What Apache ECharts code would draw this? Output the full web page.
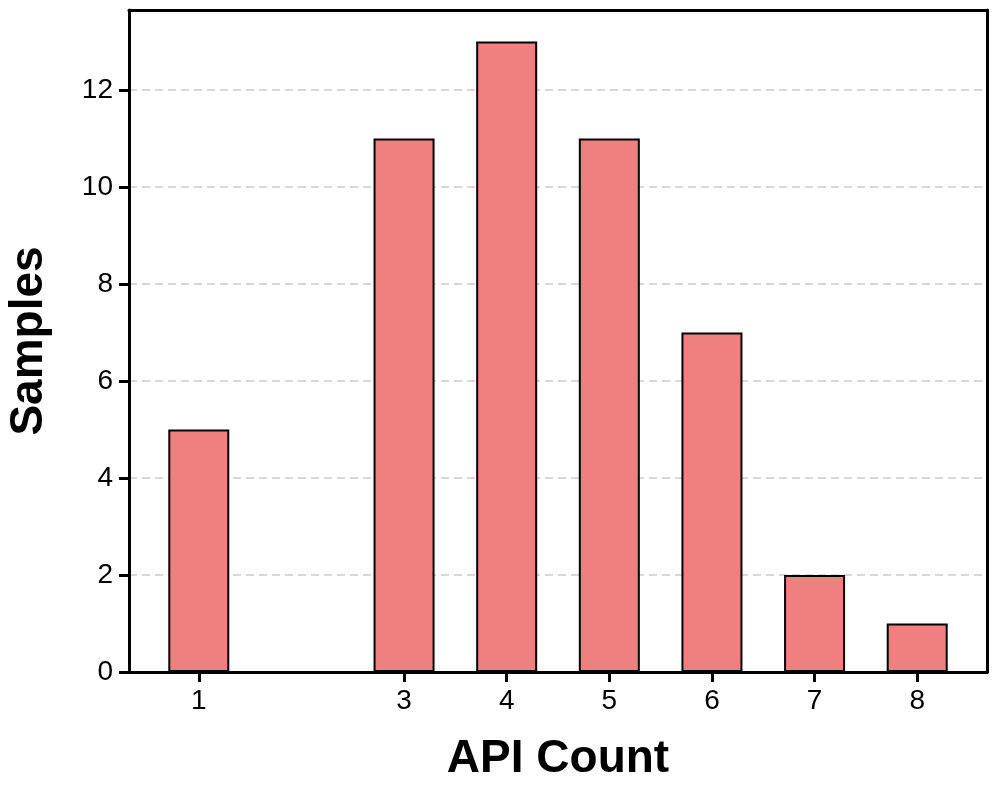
<!DOCTYPE html>
<html>
<head>
    <meta charset="utf-8">
    <title>API Count</title>
    <script src="https://cdn.jsdelivr.net/npm/echarts@6/dist/echarts.min.js"></script>
    <style>
        html, body { margin: 0; padding: 0; background: #ffffff; }
        #chart { width: 996px; height: 794px; }
    </style>
</head>
<body>
<div id="chart"></div>
<script>
    // data
    var apiCounts = [1, 3, 4, 5, 6, 7, 8];
    var samples = [5, 11, 13, 11, 7, 2, 1];
    var xTicks = [1, 3, 4, 5, 6, 7, 8];
    var yTicks = [0, 2, 4, 6, 8, 10, 12];

    var chart = echarts.init(document.getElementById('chart'));

    var points = apiCounts.map(function (c, i) { return [c, samples[i]]; });

    var font = 'Liberation Sans, Arial, sans-serif';
    var frameLine = { show: true, onZero: false, lineStyle: { color: '#000', width: 3 } };

    var option = {
        animation: false,
        grid: {
            left: 129, right: 9, top: 10, bottom: 122,
            outerBoundsMode: 'none'
        },
        xAxis: [
            {
                type: 'value',
                min: 0.32,
                max: 8.68,
                name: 'API Count',
                nameLocation: 'middle',
                nameGap: 64,
                nameTextStyle: { fontFamily: font, fontWeight: 'bold', fontSize: 46, color: '#000' },
                axisLine: frameLine,
                axisTick: {
                    show: true, length: 10, customValues: xTicks,
                    lineStyle: { color: '#000', width: 3 }
                },
                axisLabel: {
                    customValues: xTicks,
                    margin: 15,
                    fontFamily: font,
                    fontSize: 28,
                    color: '#000'
                },
                splitLine: { show: false }
            },
            {
                // top edge of the frame
                type: 'value', position: 'top', min: 0.32, max: 8.68,
                axisLine: frameLine,
                axisTick: { show: false }, axisLabel: { show: false }, splitLine: { show: false }
            }
        ],
        yAxis: [
            {
                type: 'value',
                min: 0,
                max: 13.65,
                interval: 2,
                name: 'Samples',
                nameLocation: 'middle',
                nameGap: 77,
                nameTextStyle: { fontFamily: font, fontWeight: 'bold', fontSize: 46, color: '#000' },
                axisLine: frameLine,
                axisTick: {
                    show: true, length: 10, customValues: yTicks,
                    lineStyle: { color: '#000', width: 3 }
                },
                axisLabel: {
                    customValues: yTicks,
                    margin: 16,
                    fontFamily: font,
                    fontSize: 28,
                    color: '#000'
                },
                splitLine: {
                    show: true,
                    lineStyle: { color: '#cccccc', type: [8, 5], width: 1.5 }
                }
            },
            {
                // right edge of the frame
                type: 'value', position: 'right', min: 0, max: 13.65,
                axisLine: frameLine,
                axisTick: { show: false }, axisLabel: { show: false }, splitLine: { show: false }
            }
        ],
        series: [
            {
                type: 'bar',
                data: points,
                barWidth: 61,
                itemStyle: {
                    color: '#F08080',
                    borderColor: '#000',
                    borderWidth: 2
                }
            }
        ]
    };
    chart.setOption(option);
</script>
</body>
</html>
